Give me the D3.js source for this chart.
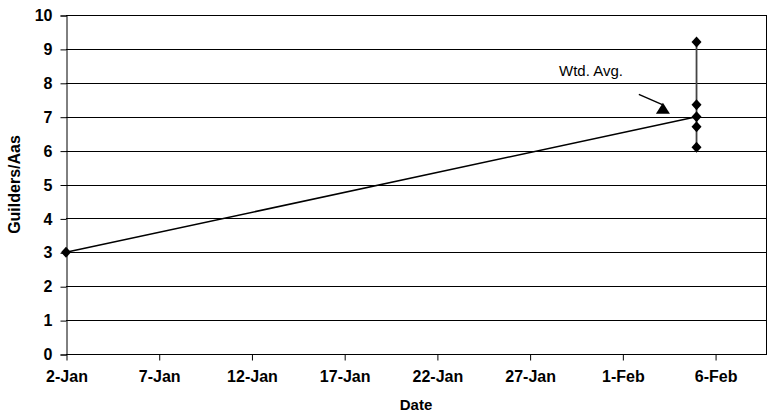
<!DOCTYPE html>
<html>
<head>
<meta charset="utf-8">
<script src="https://cdn.jsdelivr.net/npm/d3@7"></script>
<style>
  body { margin: 0; background: #fff; }
  text { font-family: "Liberation Sans", Arial, sans-serif; fill: #000; }
</style>
</head>
<body>
<svg id="chart" width="771" height="419"></svg>
<script>
// Weighted-average price line: start of January to the trade date
const avgDates = ["2000-01-02", "2000-02-05"];
const avgValues = [3.0, 7.0];

// Individual quotes recorded on the trade date
const quoteDate = "2000-02-05";
const quoteValues = [9.2, 7.35, 7.0, 6.7, 6.1];

// Axis settings
const xStart = "2000-01-02T00:00";
const xEnd = "2000-02-08T19:12";
const xTickDates = ["2000-01-02", "2000-01-07", "2000-01-12", "2000-01-17",
                    "2000-01-22", "2000-01-27", "2000-02-01", "2000-02-06"];
const yTicks = [0, 1, 2, 3, 4, 5, 6, 7, 8, 9, 10];

// Annotation: label and arrow pointing at the weighted average
const noteText = "Wtd. Avg.";
const noteLabel = { date: "2000-01-28T14:00", value: 8.2 };
const noteArrow = [{ date: "2000-02-01T21:20", value: 7.66 },
                   { date: "2000-02-03T04:30", value: 7.35 }];

const parse = d3.utcParse("%Y-%m-%d");
const parseT = d3.utcParse("%Y-%m-%dT%H:%M");
const fmt = d3.utcFormat("%-d-%b");

const margin = { top: 15, right: 4, bottom: 65, left: 66 };
const W = 771, H = 419;
const svg = d3.select("#chart");

const x = d3.scaleUtc()
  .domain([parseT(xStart), parseT(xEnd)])
  .range([margin.left, W - margin.right]);
const y = d3.scaleLinear()
  .domain([0, 10])
  .range([H - margin.bottom, margin.top]);

// horizontal gridlines
svg.append("g")
  .selectAll("line")
  .data(yTicks)
  .join("line")
  .attr("x1", margin.left).attr("x2", W - margin.right)
  .attr("y1", d => Math.round(y(d)) + 0.5).attr("y2", d => Math.round(y(d)) + 0.5)
  .attr("stroke", "#000").attr("stroke-width", 1);

// plot frame (right side)
svg.append("line")
  .attr("x1", W - margin.right - 0.5).attr("x2", W - margin.right - 0.5)
  .attr("y1", y(10)).attr("y2", y(0))
  .attr("stroke", "#000");

// y axis
const yAxis = svg.append("g")
  .attr("transform", `translate(${margin.left + 0.5},0.5)`)
  .call(d3.axisLeft(y).tickValues(yTicks).tickSize(6).tickPadding(8).tickFormat(d3.format("d")));
yAxis.select(".domain").attr("stroke", "#000");
yAxis.selectAll("text")
  .style("font-size", "16px").style("font-weight", "bold")
  .attr("font-family", null);

// x axis
const xAxis = svg.append("g")
  .attr("transform", `translate(0.5,${Math.round(y(0)) + 0.5})`)
  .call(d3.axisBottom(x).tickValues(xTickDates.map(parse)).tickSize(6).tickPadding(10).tickFormat(fmt));
xAxis.select(".domain").remove();
xAxis.selectAll("text")
  .style("font-size", "16px").style("font-weight", "bold")
  .attr("font-family", null);

// axis titles
svg.append("text")
  .attr("x", 416).attr("y", 410)
  .attr("text-anchor", "middle")
  .style("font-size", "15px").style("font-weight", "bold")
  .text("Date");
svg.append("text")
  .attr("transform", `translate(20,${(y(0) + y(10)) / 2}) rotate(-90)`)
  .attr("text-anchor", "middle")
  .style("font-size", "16px").style("font-weight", "bold")
  .text("Guilders/Aas");

// spread of quotes on the trade date
const qDate = parse(quoteDate);
svg.append("line")
  .attr("x1", x(qDate)).attr("x2", x(qDate))
  .attr("y1", y(d3.min(quoteValues))).attr("y2", y(d3.max(quoteValues)))
  .attr("stroke", "#444").attr("stroke-width", 1.8);

// weighted-average line
const avgData = avgDates.map((d, i) => ({ date: parse(d), value: avgValues[i] }));
svg.append("path")
  .datum(avgData)
  .attr("fill", "none")
  .attr("stroke", "#000")
  .attr("stroke-width", 1.5)
  .attr("d", d3.line().x(d => x(d.date)).y(d => y(d.value)));

// diamond markers
const diamondPath = "M0,-5.5L5,0L0,5.5L-5,0Z";
const markers = [avgData[0], ...quoteValues.map(v => ({ date: qDate, value: v }))];
svg.append("g")
  .selectAll("path")
  .data(markers)
  .join("path")
  .attr("transform", d => `translate(${x(d.date)},${y(d.value)})`)
  .attr("d", diamondPath)
  .attr("fill", "#000");

// annotation label
svg.append("text")
  .attr("x", x(parseT(noteLabel.date)))
  .attr("y", y(noteLabel.value))
  .style("font-size", "15px")
  .text(noteText);

// annotation arrow: shaft plus a filled head resting on its base
const a0 = [x(parseT(noteArrow[0].date)), y(noteArrow[0].value)];
const a1 = [x(parseT(noteArrow[1].date)), y(noteArrow[1].value)];
svg.append("line")
  .attr("x1", a0[0]).attr("y1", a0[1])
  .attr("x2", a1[0]).attr("y2", a1[1])
  .attr("stroke", "#000").attr("stroke-width", 1.4);
svg.append("path")
  .attr("transform", `translate(${a1[0]},${a1[1]})`)
  .attr("d", "M0,-2L-7,9L7,9Z")
  .attr("fill", "#000");
</script>
</body>
</html>
